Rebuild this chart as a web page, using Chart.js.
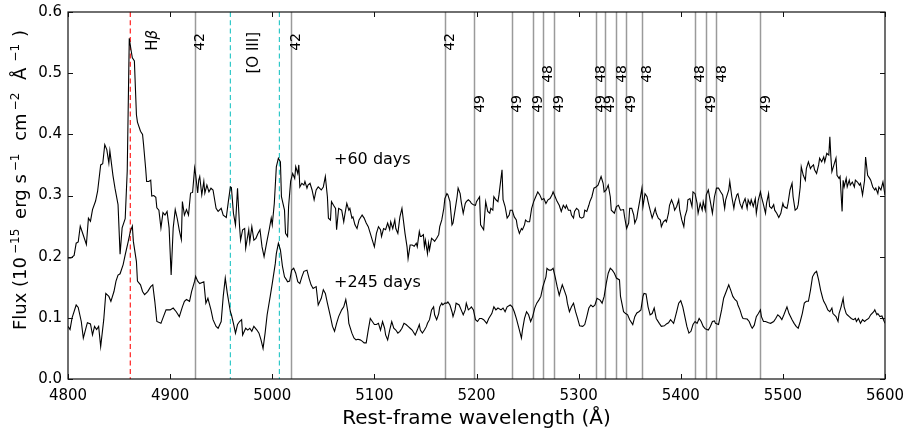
<!DOCTYPE html>
<html>
<head>
<meta charset="utf-8">
<script src="https://cdn.jsdelivr.net/npm/chart.js@4.4.1/dist/chart.umd.min.js"></script>
<style>
  html, body { margin: 0; padding: 0; background: #fff; }
  canvas { display: block; }
</style>
</head>
<body>
<canvas id="spectrum" width="907" height="433"></canvas>
<script>
// Rest-frame spectra, [wavelength (A), flux (1e-15 erg/s/cm2/A)]
const spec60 = [
  [4800,0.198],[4803,0.198],[4806,0.202],[4808,0.222],[4810,0.224],[4812,0.250],[4815,0.235],[4818,0.220],[4820,0.263],[4822,0.258],
  [4824,0.277],[4827,0.291],[4829,0.307],[4832,0.350],[4834,0.352],[4836,0.383],[4838,0.375],[4840,0.353],[4841,0.373],[4844,0.333],
  [4846,0.312],[4849,0.285],[4851,0.204],[4853,0.247],[4856,0.262],[4858,0.340],[4860,0.557],[4862,0.535],[4863,0.525],[4865,0.520],
  [4867,0.432],[4868,0.420],[4871,0.405],[4873,0.400],[4874,0.383],[4876,0.345],[4877,0.323],[4879,0.323],[4881,0.325],[4882,0.299],
  [4884,0.300],[4886,0.297],[4887,0.280],[4889,0.276],[4891,0.247],[4893,0.272],[4895,0.268],[4897,0.274],[4899,0.247],[4901,0.170],
  [4903,0.247],[4905,0.277],[4907,0.262],[4909,0.243],[4911,0.228],[4912,0.290],[4914,0.268],[4916,0.277],[4918,0.268],[4920,0.304],
  [4922,0.305],[4924,0.345],[4925,0.334],[4927,0.304],[4928,0.325],
  [4929,0.331],[4931,0.301],[4933,0.323],[4934,0.304],[4936,0.317],[4938,0.306],[4940,0.312],[4942,0.309],[4945,0.279],[4947,0.274],
  [4950,0.279],[4952,0.268],[4955,0.264],[4957,0.290],[4959,0.314],[4960,0.313],[4962,0.271],[4964,0.252],[4966,0.312],[4968,0.249],
  [4969,0.227],[4971,0.244],[4973,0.246],[4974,0.214],[4977,0.244],[4978,0.224],[4980,0.249],[4982,0.227],[4984,0.230],[4986,0.238],
  [4988,0.244],[4990,0.216],[4992,0.200],[4995,0.227],[4997,0.244],[4999,0.263],[5000,0.252],[5002,0.287],[5004,0.347],[5006,0.361],
  [5008,0.355],[5009,0.298],[5012,0.276],[5013,0.238],[5015,0.233],[5016,0.282],[5018,0.323],[5020,0.336],[5022,0.328],[5023,0.347],
  [5025,0.336],[5026,0.350],[5027,0.314],[5029,0.320],[5031,0.317],[5032,0.323],[5034,0.312],[5035,0.317],[5037,0.320],[5039,0.309],
  [5041,0.293],[5043,0.309],[5045,0.314],[5048,0.309],[5050,0.314],[5052,0.331],[5054,0.298],[5055,0.263],[5057,0.260],[5058,0.290],
  [5060,0.284],[5062,0.279],[5063,0.244],[5065,0.279],
  [5068,0.276],[5070,0.257],[5071,0.268],[5073,0.287],[5075,0.276],[5076,0.279],[5078,0.263],[5079,0.265],[5081,0.252],[5083,0.246],
  [5085,0.260],[5088,0.268],[5090,0.263],[5092,0.255],[5094,0.249],[5096,0.238],[5098,0.227],[5100,0.216],[5102,0.238],[5104,0.249],
  [5106,0.244],[5107,0.233],[5109,0.246],[5111,0.244],[5113,0.255],[5115,0.244],[5116,0.257],[5118,0.246],[5120,0.260],[5121,0.246],
  [5123,0.238],[5125,0.265],[5127,0.279],[5128,0.265],[5130,0.238],[5132,0.216],[5133,0.197],[5135,0.219],[5137,0.219],[5139,0.217],
  [5141,0.222],[5142,0.216],[5144,0.241],[5145,0.233],[5146,0.233],[5148,0.236],[5149,0.216],[5150,0.227],[5152,0.205],[5153,0.222],
  [5154,0.211],[5156,0.230],[5158,0.227],[5159,0.225],[5161,0.230],[5163,0.236],[5164,0.249],[5166,0.260],[5168,0.279],[5169,0.295],
  [5171,0.303],[5172,0.301],[5174,0.290],[5176,0.252],[5177,0.255],[5179,0.276],[5181,0.298],[5182,0.312],[5184,0.303],[5185,0.290],
  [5187,0.271],[5189,0.287],[5190,0.290],[5192,0.293],[5194,0.290],[5195,0.287],[5197,0.285],
  [5199,0.284],[5200,0.290],[5203,0.298],[5204,0.252],[5207,0.244],[5209,0.290],[5211,0.274],[5213,0.271],[5214,0.279],[5216,0.276],
  [5217,0.298],[5219,0.293],[5221,0.290],[5222,0.301],[5225,0.342],[5226,0.293],[5228,0.282],[5230,0.263],[5232,0.268],[5233,0.276],
  [5235,0.276],[5237,0.265],[5239,0.260],[5240,0.249],[5242,0.238],[5244,0.246],[5245,0.244],[5247,0.252],[5248,0.260],[5250,0.257],
  [5252,0.257],[5254,0.279],[5256,0.290],[5258,0.298],[5260,0.306],[5262,0.301],[5264,0.293],[5266,0.295],[5268,0.287],[5270,0.293],
  [5272,0.295],[5274,0.301],[5275,0.306],[5277,0.298],[5279,0.290],[5281,0.284],[5283,0.274],[5285,0.284],[5287,0.279],[5288,0.284],
  [5290,0.276],[5292,0.276],[5293,0.268],[5295,0.263],[5296,0.274],[5298,0.279],[5300,0.276],[5301,0.265],[5303,0.263],[5305,0.265],
  [5306,0.276],[5308,0.274],[5310,0.284],[5311,0.290],[5313,0.298],[5315,0.312],[5317,0.314],[5319,0.317],[5322,0.331],[5324,0.320],
  [5325,0.306],[5327,0.309],[5329,0.317],
  [5331,0.298],[5332,0.276],[5335,0.271],[5337,0.282],[5339,0.284],[5341,0.276],[5344,0.277],[5345,0.265],[5347,0.246],[5349,0.255],
  [5350,0.279],[5352,0.279],[5354,0.268],[5355,0.255],[5357,0.263],[5358,0.274],[5360,0.293],[5362,0.312],[5363,0.282],[5365,0.303],
  [5367,0.298],[5368,0.290],[5370,0.276],[5372,0.263],[5373,0.268],[5375,0.279],[5376,0.271],[5378,0.263],[5380,0.260],[5381,0.249],
  [5383,0.257],[5385,0.260],[5386,0.257],[5388,0.271],[5389,0.284],[5391,0.293],[5393,0.284],[5394,0.276],[5396,0.282],[5398,0.293],
  [5399,0.276],[5401,0.260],[5403,0.249],[5404,0.265],[5406,0.276],[5407,0.293],[5409,0.295],[5411,0.282],[5412,0.306],[5414,0.303],
  [5416,0.287],[5417,0.271],[5419,0.287],[5421,0.276],[5422,0.290],[5424,0.276],[5425,0.301],[5427,0.309],[5429,0.290],[5431,0.271],
  [5433,0.298],[5435,0.312],[5437,0.312],[5439,0.306],[5441,0.301],[5443,0.279],[5444,0.293],[5447,0.309],[5448,0.323],[5450,0.298],
  [5452,0.279],[5453,0.290],[5455,0.301],[5456,0.303],[5458,0.287],[5460,0.279],[5461,0.287],
  [5463,0.295],[5465,0.279],[5466,0.293],[5468,0.285],[5469,0.293],[5471,0.282],[5473,0.295],[5474,0.271],[5476,0.293],[5478,0.306],
  [5479,0.298],[5481,0.285],[5483,0.271],[5484,0.287],[5486,0.303],[5487,0.282],[5489,0.279],[5491,0.285],[5492,0.276],[5494,0.271],
  [5496,0.264],[5498,0.271],[5500,0.287],[5501,0.282],[5504,0.279],[5505,0.287],[5507,0.309],[5509,0.320],[5510,0.298],[5512,0.276],
  [5514,0.279],[5515,0.285],[5517,0.314],[5518,0.347],[5520,0.333],[5522,0.325],[5523,0.344],[5525,0.355],[5527,0.344],[5528,0.347],
  [5530,0.350],[5531,0.342],[5533,0.336],[5535,0.350],[5536,0.361],[5538,0.355],[5540,0.363],[5541,0.355],[5543,0.369],[5545,0.366],
  [5546,0.396],[5547,0.363],[5548,0.339],[5550,0.350],[5552,0.361],[5553,0.333],[5555,0.328],[5556,0.331],[5558,0.274],[5559,0.325],
  [5560,0.314],[5562,0.328],[5563,0.314],[5565,0.325],[5566,0.317],[5568,0.322],[5570,0.314],[5571,0.325],[5573,0.322],[5575,0.317],
  [5576,0.320],[5578,0.301],[5580,0.325],[5581,0.363],[5583,0.333],[5585,0.328],[5586,0.325],[5588,0.314],[5590,0.309],[5591,0.312],
  [5593,0.303],[5594,0.314],[5596,0.309],[5598,0.322],[5600,0.301]
];

const spec245 = [
  [4800,0.086],[4802,0.081],[4804,0.100],[4808,0.121],[4810,0.117],[4813,0.094],[4815,0.067],[4818,0.086],[4819,0.092],[4822,0.090],
  [4824,0.072],[4826,0.086],[4828,0.081],[4830,0.086],[4832,0.053],[4835,0.097],[4837,0.140],[4840,0.135],[4842,0.127],[4845,0.143],
  [4847,0.160],[4849,0.170],[4851,0.172],[4854,0.187],[4856,0.203],[4859,0.225],[4861,0.241],[4863,0.250],[4864,0.225],[4867,0.192],
  [4868,0.160],[4871,0.154],[4873,0.143],[4875,0.138],[4878,0.143],[4881,0.151],[4883,0.154],[4885,0.127],[4887,0.094],[4891,0.091],
  [4893,0.100],[4896,0.113],[4900,0.113],[4903,0.116],[4906,0.110],[4909,0.102],[4912,0.118],[4914,0.127],[4916,0.130],[4919,0.127],
  [4921,0.143],[4924,0.160],[4925,0.168],[4927,0.160],
  [4929,0.156],[4933,0.159],[4935,0.124],[4937,0.132],[4940,0.113],[4942,0.097],[4945,0.086],[4947,0.083],[4950,0.094],[4952,0.135],
  [4954,0.165],[4956,0.140],[4959,0.110],[4960,0.105],[4962,0.091],[4964,0.075],[4966,0.089],[4968,0.094],[4970,0.097],[4971,0.072],
  [4974,0.083],[4976,0.080],[4978,0.083],[4980,0.078],[4982,0.086],[4985,0.080],[4987,0.075],[4989,0.064],[4991,0.050],[4993,0.075],
  [4995,0.105],[4998,0.135],[5000,0.156],[5003,0.189],[5004,0.205],[5006,0.222],[5008,0.211],[5010,0.184],[5012,0.167],[5014,0.162],
  [5015,0.159],[5017,0.160],[5019,0.178],[5021,0.181],[5023,0.173],[5025,0.159],[5027,0.156],[5029,0.167],[5031,0.176],[5034,0.178],
  [5036,0.165],[5038,0.154],[5040,0.148],[5043,0.151],[5045,0.121],[5048,0.132],[5050,0.146],[5052,0.140],[5054,0.124],[5057,0.102],
  [5059,0.086],[5061,0.078],[5063,0.091],[5065,0.102],
  [5068,0.113],[5070,0.118],[5072,0.130],[5074,0.110],[5075,0.091],[5078,0.075],[5080,0.067],[5082,0.064],[5084,0.065],[5086,0.064],
  [5088,0.062],[5090,0.059],[5092,0.059],[5094,0.080],[5096,0.099],[5098,0.094],[5100,0.089],[5102,0.089],[5104,0.091],[5106,0.080],
  [5108,0.094],[5110,0.083],[5111,0.072],[5113,0.064],[5115,0.080],[5117,0.094],[5119,0.083],[5121,0.080],[5123,0.075],[5125,0.078],
  [5127,0.083],[5129,0.091],[5131,0.089],[5133,0.086],[5135,0.083],[5137,0.080],[5140,0.072],[5142,0.080],[5144,0.089],[5145,0.080],
  [5147,0.075],[5149,0.080],[5151,0.086],[5152,0.091],[5154,0.097],[5156,0.113],[5158,0.118],[5159,0.105],[5161,0.097],[5163,0.107],
  [5164,0.118],[5166,0.124],[5167,0.121],[5169,0.124],[5171,0.124],[5172,0.126],[5174,0.121],[5176,0.110],[5177,0.102],[5179,0.113],
  [5180,0.124],[5183,0.121],[5185,0.113],[5187,0.105],[5189,0.113],[5190,0.124],[5192,0.113],[5194,0.116],[5195,0.118],[5197,0.113],
  [5199,0.097],[5201,0.094],[5203,0.099],[5205,0.099],[5207,0.097],[5210,0.091],[5212,0.099],[5215,0.107],[5217,0.118],[5219,0.113],
  [5221,0.116],[5224,0.113],[5226,0.116],[5228,0.110],[5230,0.118],[5233,0.121],[5235,0.118],[5237,0.110],[5239,0.099],[5242,0.080],
  [5244,0.067],[5245,0.080],[5247,0.099],[5249,0.110],[5251,0.105],[5253,0.094],[5255,0.102],[5257,0.116],[5259,0.124],[5261,0.129],
  [5263,0.135],[5265,0.151],[5268,0.167],[5269,0.181],[5271,0.178],[5273,0.178],[5275,0.181],[5277,0.167],[5279,0.151],[5281,0.137],
  [5282,0.143],[5284,0.154],[5286,0.145],[5288,0.135],[5289,0.124],[5291,0.110],[5293,0.118],[5295,0.124],[5297,0.110],[5299,0.099],
  [5301,0.087],[5304,0.086],[5306,0.089],[5308,0.102],[5310,0.116],[5312,0.121],[5314,0.118],[5316,0.121],[5318,0.132],[5321,0.129],
  [5323,0.124],[5325,0.135],[5327,0.156],[5329,0.173],
  [5331,0.181],[5333,0.178],[5335,0.173],[5337,0.165],[5340,0.162],[5341,0.135],[5344,0.110],[5346,0.107],[5348,0.105],[5350,0.097],
  [5353,0.089],[5355,0.102],[5357,0.108],[5359,0.110],[5361,0.113],[5363,0.135],[5364,0.140],[5366,0.139],[5368,0.118],[5370,0.105],
  [5372,0.107],[5374,0.116],[5376,0.099],[5379,0.091],[5381,0.086],[5384,0.087],[5386,0.090],[5388,0.092],[5390,0.097],[5393,0.091],
  [5394,0.097],[5396,0.110],[5398,0.124],[5400,0.128],[5402,0.118],[5404,0.102],[5406,0.086],[5408,0.075],[5410,0.078],[5412,0.089],
  [5414,0.094],[5416,0.091],[5418,0.099],[5420,0.094],[5422,0.086],[5424,0.082],[5427,0.080],[5429,0.086],[5431,0.094],[5433,0.095],
  [5434,0.091],[5437,0.089],[5438,0.097],[5440,0.113],[5442,0.132],[5445,0.145],[5447,0.154],[5449,0.145],[5451,0.135],[5453,0.130],
  [5455,0.127],[5456,0.121],[5458,0.113],[5460,0.102],[5461,0.099],
  [5465,0.098],[5467,0.094],[5469,0.086],[5470,0.083],[5472,0.088],[5474,0.102],[5476,0.107],[5478,0.113],[5479,0.102],[5481,0.094],
  [5483,0.094],[5486,0.092],[5488,0.091],[5491,0.094],[5493,0.099],[5495,0.105],[5497,0.102],[5499,0.097],[5501,0.105],[5504,0.118],
  [5506,0.107],[5509,0.097],[5511,0.091],[5513,0.086],[5515,0.083],[5517,0.094],[5519,0.107],[5521,0.124],[5523,0.127],[5525,0.127],
  [5527,0.145],[5529,0.167],[5531,0.173],[5533,0.176],[5535,0.162],[5537,0.145],[5539,0.132],[5540,0.127],[5542,0.121],[5544,0.113],
  [5546,0.110],[5548,0.116],[5549,0.107],[5552,0.102],[5554,0.094],[5555,0.107],[5557,0.118],[5559,0.132],[5560,0.118],[5562,0.107],
  [5563,0.105],[5565,0.102],[5567,0.099],[5569,0.097],[5571,0.099],[5572,0.094],[5574,0.099],[5576,0.091],[5578,0.097],[5580,0.094],
  [5582,0.097],[5584,0.099],[5586,0.105],[5589,0.110],[5590,0.113],[5592,0.105],[5593,0.107],[5595,0.102],[5597,0.103],[5600,0.091]
];

const epochs = ['+60 days', '+245 days'];

// line identifications (A)
const hBeta = 4861;
const oIII = [4959, 5007];
const feII42 = [4924, 5018, 5169];
const feII48 = [5265, 5317, 5337, 5362, 5414, 5435];
const feII49 = [5198, 5235, 5255, 5276, 5317, 5326, 5346, 5425, 5478];

const xTicks = [4800, 4900, 5000, 5100, 5200, 5300, 5400, 5500, 5600];
const yTicks = [0.0, 0.1, 0.2, 0.3, 0.4, 0.5, 0.6];

const FONT = '"DejaVu Sans", sans-serif';

// vertical text reading bottom-to-top, top end at (x, top)
function drawUp(ctx, parts, x, top) {
  ctx.save();
  ctx.translate(x, top);
  ctx.rotate(-Math.PI / 2);
  ctx.textBaseline = 'middle';
  ctx.textAlign = 'left';
  let total = 0;
  parts.forEach(p => { ctx.font = p.font; total += ctx.measureText(p.t).width; });
  let pos = -total;
  parts.forEach(p => {
    ctx.font = p.font;
    ctx.fillText(p.t, pos, 0);
    pos += ctx.measureText(p.t).width;
  });
  ctx.restore();
}

const decorations = {
  id: 'decorations',
  beforeDatasetsDraw(chart) {
    const { ctx, chartArea: a, scales: { x } } = chart;
    ctx.save();
    ctx.lineWidth = 1.5;
    ctx.strokeStyle = '#9a9a9a';
    const fe = [...new Set([...feII42, ...feII48, ...feII49])];
    fe.forEach(w => {
      const px = Math.round(x.getPixelForValue(w)) + 0.5;
      ctx.beginPath(); ctx.moveTo(px, a.top); ctx.lineTo(px, a.bottom); ctx.stroke();
    });
    ctx.lineWidth = 1.2;
    ctx.setLineDash([5, 3.3]);
    ctx.strokeStyle = '#ff2020';
    let px = x.getPixelForValue(hBeta);
    ctx.beginPath(); ctx.moveTo(px, a.top); ctx.lineTo(px, a.bottom); ctx.stroke();
    ctx.strokeStyle = '#30c8c8';
    oIII.forEach(w => {
      px = x.getPixelForValue(w);
      ctx.beginPath(); ctx.moveTo(px, a.top); ctx.lineTo(px, a.bottom); ctx.stroke();
    });
    ctx.restore();
  },
  afterDraw(chart) {
    const { ctx, chartArea: a, scales: { x, y } } = chart;
    ctx.save();

    // frame and inward ticks on all four sides
    ctx.strokeStyle = '#111';
    ctx.lineWidth = 1.2;
    ctx.strokeRect(a.left, a.top, a.right - a.left, a.bottom - a.top);
    ctx.lineWidth = 1;
    const tl = 5;
    xTicks.forEach(v => {
      const px = Math.round(x.getPixelForValue(v)) + 0.5;
      ctx.beginPath();
      ctx.moveTo(px, a.bottom); ctx.lineTo(px, a.bottom - tl);
      ctx.moveTo(px, a.top); ctx.lineTo(px, a.top + tl);
      ctx.stroke();
    });
    yTicks.forEach(v => {
      const py = Math.round(y.getPixelForValue(v)) + 0.5;
      ctx.beginPath();
      ctx.moveTo(a.left, py); ctx.lineTo(a.left + tl, py);
      ctx.moveTo(a.right, py); ctx.lineTo(a.right - tl, py);
      ctx.stroke();
    });

    ctx.fillStyle = '#000';

    // line identifications
    const small = '14px ' + FONT;
    const rows = [[feII42, '42', 33], [feII48, '48', 65], [feII49, '49', 95]];
    rows.forEach(([list, txt, top]) => {
      list.forEach(w => drawUp(ctx, [{ t: txt, font: small }], x.getPixelForValue(w) + 5.5, top));
    });
    drawUp(ctx, [{ t: 'H', font: '15px ' + FONT }, { t: 'β', font: 'italic 15px ' + FONT }],
      x.getPixelForValue(hBeta) + 23, 30);
    drawUp(ctx, [{ t: '[O III]', font: '15px ' + FONT }], x.getPixelForValue(4982), 32);

    // epoch labels
    ctx.font = '16px ' + FONT;
    ctx.textAlign = 'left';
    ctx.textBaseline = 'middle';
    ctx.fillText(epochs[0], x.getPixelForValue(5060.5), y.getPixelForValue(0.358));
    ctx.fillText(epochs[1], x.getPixelForValue(5060.5), y.getPixelForValue(0.157));

    // axis titles
    ctx.font = '20px ' + FONT;
    ctx.textAlign = 'center';
    ctx.fillText('Rest-frame wavelength (Å)', (a.left + a.right) / 2, 419);

    const main = '18px ' + FONT, sup = '12px ' + FONT;
    const parts = [
      { t: 'Flux (10', font: main, rise: 0, gap: 0 },
      { t: '−15', font: sup, rise: 7, gap: 3 },
      { t: ' erg s', font: main, rise: 0, gap: 4 },
      { t: '−1', font: sup, rise: 7, gap: 3 },
      { t: ' cm', font: main, rise: 0, gap: 7 },
      { t: '−2', font: sup, rise: 7, gap: 3 },
      { t: ' Å', font: main, rise: 0, gap: 7 },
      { t: '−1', font: sup, rise: 7, gap: 6 },
      { t: ')', font: main, rise: 0, gap: 7 }
    ];
    let total = 0;
    parts.forEach(p => { ctx.font = p.font; total += p.gap + ctx.measureText(p.t).width; });
    ctx.translate(26, 180);
    ctx.rotate(-Math.PI / 2);
    ctx.textAlign = 'left';
    ctx.textBaseline = 'alphabetic';
    let pos = -total / 2;
    parts.forEach(p => {
      ctx.font = p.font;
      pos += p.gap;
      ctx.fillText(p.t, pos, -p.rise);
      pos += ctx.measureText(p.t).width;
    });
    ctx.restore();
  }
};

const toPoints = s => s.map(([w, f]) => ({ x: w, y: f }));

new Chart(document.getElementById('spectrum'), {
  type: 'line',
  data: {
    datasets: [
      { label: epochs[0], data: toPoints(spec60), borderColor: '#000', borderWidth: 1.1, pointRadius: 0, tension: 0, fill: false },
      { label: epochs[1], data: toPoints(spec245), borderColor: '#000', borderWidth: 1.1, pointRadius: 0, tension: 0, fill: false }
    ]
  },
  options: {
    responsive: false,
    animation: false,
    events: [],
    layout: { padding: { top: 12, right: 22, left: 0, bottom: 0 } },
    plugins: { legend: { display: false }, tooltip: { enabled: false } },
    scales: {
      x: {
        type: 'linear', min: xTicks[0], max: xTicks[xTicks.length - 1],
        grid: { display: false, drawTicks: false }, border: { display: false },
        afterBuildTicks: s => { s.ticks = xTicks.map(v => ({ value: v })); },
        ticks: { padding: 8, color: '#000', font: { family: FONT, size: 15 }, maxRotation: 0, autoSkip: false,
                 callback: v => String(v) },
        afterFit: s => { s.height = 54; s.paddingLeft = 0; s.paddingRight = 0; }
      },
      y: {
        type: 'linear', min: yTicks[0], max: yTicks[yTicks.length - 1],
        grid: { display: false, drawTicks: false }, border: { display: false },
        afterBuildTicks: s => { s.ticks = yTicks.map(v => ({ value: v })); },
        ticks: { padding: 6, color: '#000', font: { family: FONT, size: 15 }, callback: v => v.toFixed(1) },
        afterFit: s => { s.width = 68; s.paddingTop = 0; s.paddingBottom = 0; }
      }
    }
  },
  plugins: [decorations]
});
</script>
</body>
</html>
